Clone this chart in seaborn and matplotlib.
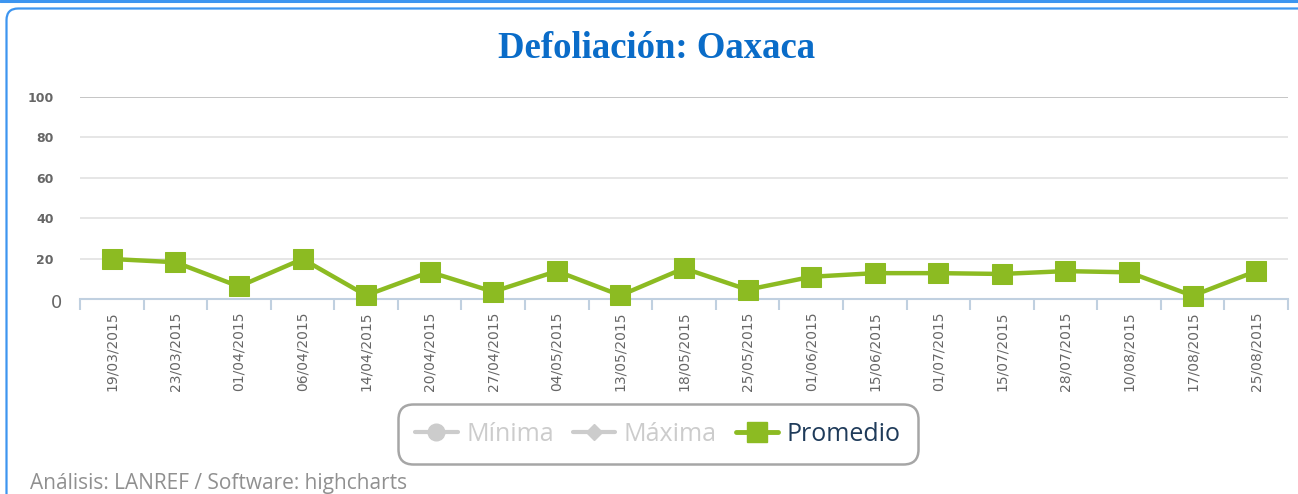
import matplotlib
matplotlib.use("Agg")
import matplotlib.pyplot as plt
import matplotlib.transforms as mtransforms
from matplotlib.lines import Line2D
from matplotlib.patches import FancyBboxPatch
import seaborn as sns
import pandas as pd

fechas = ["19/03/2015", "23/03/2015", "01/04/2015", "06/04/2015", "14/04/2015",
          "20/04/2015", "27/04/2015", "04/05/2015", "13/05/2015", "18/05/2015",
          "25/05/2015", "01/06/2015", "15/06/2015", "01/07/2015", "15/07/2015",
          "28/07/2015", "10/08/2015", "17/08/2015", "25/08/2015"]
promedio = [19.8, 18.2, 6.2, 19.8, 1.8, 13.4, 3.6, 13.8, 1.8, 15.2,
            4.6, 11.0, 12.8, 12.8, 12.4, 13.8, 13.2, 1.6, 13.8]
y_ticks = [0, 20, 40, 60, 80, 100]
series_names = ["Mínima", "Máxima", "Promedio"]

verde = "#8cbb22"
gris = "#666666"

df = pd.DataFrame({"fecha": fechas, "promedio": promedio})
df["pos"] = range(len(df))

sns.set_style("white")
plt.rcParams["font.family"] = ["DejaVu Sans"]

fig = plt.figure(figsize=(12.98, 4.94), dpi=100)
W, H = 1298, 494

# container frame
fig.add_artist(Line2D([0, 1], [1 - 1 / H, 1 - 1 / H], color="#3d95f0", lw=2.2))
frame = FancyBboxPatch((6.5 / W, -0.2), 1.2, 1.2 - 8.5 / H,
                       boxstyle="round,pad=0,rounding_size=0.009",
                       transform=fig.transFigure, fill=False,
                       edgecolor="#3d95f0", lw=1.6, mutation_aspect=W / H)
fig.add_artist(frame)

ax = fig.add_axes([80 / W, (H - 299) / H, (1288 - 80) / W, 202 / H])

for t in y_ticks[1:]:
    ax.axhline(t, color="#c0c0c0" if t == 100 else "#e4e4e4", lw=1.3, zorder=0)

sns.lineplot(data=df, x="pos", y="promedio", ax=ax, color=verde, lw=3.2,
             marker="s", markersize=14, markeredgecolor=verde, zorder=3,
             clip_on=False)

ax.set_xlim(-0.5, len(fechas) - 0.5)
ax.set_ylim(0, 100)
for s in ["left", "right", "top"]:
    ax.spines[s].set_visible(False)
ax.spines["bottom"].set_color("#c0d0e0")
ax.spines["bottom"].set_linewidth(1.5)

ax.set_xticks(range(len(fechas)))
ax.set_xticklabels(fechas, rotation=90, fontsize=10, color=gris, va="top")
ax.set_xticks([i - 0.5 for i in range(len(fechas) + 1)], minor=True)
ax.tick_params(axis="x", which="major", length=0, pad=9)
ax.tick_params(axis="x", which="minor", bottom=True, length=8, width=1.5,
               color="#c0d0e0")

ax.set_yticks(y_ticks)
ax.set_yticklabels([str(t) for t in y_ticks])
ax.tick_params(axis="y", length=0, pad=19)
for lab, t in zip(ax.get_yticklabels(), y_ticks):
    if t == 0:
        lab.set_fontsize(13)
        lab.set_color(gris)
        # the zero label sits closer to the axis in the original
        lab.set_transform(lab.get_transform() + mtransforms.ScaledTranslation(
            9 / 100, -2 / 100, fig.dpi_scale_trans))
    else:
        lab.set_fontsize(9)
        lab.set_fontweight("bold")
        lab.set_color(gris)
ax.set_xlabel("")
ax.set_ylabel("")

fig.text(657 / W, 1 - 48 / H, "Defoliación: Oaxaca", ha="center", va="center",
         fontsize=26.5, fontweight="bold", color="#0a6cc8",
         family=["Liberation Serif", "DejaVu Serif"])

handles = [
    Line2D([], [], color="#cccccc", lw=3, marker="o", markersize=12),
    Line2D([], [], color="#cccccc", lw=3, marker="D", markersize=8),
    Line2D([], [], color=verde, lw=3.5, marker="s", markersize=14),
]
leg = fig.legend(handles, series_names, loc="center", ncol=3,
                 bbox_to_anchor=(658 / W, 1 - 434 / H), frameon=True,
                 handlelength=1.7, handletextpad=0.35,
                 columnspacing=0.75, borderpad=0.7, borderaxespad=0,
                 fancybox=True, prop={"family": "Open Sans", "size": 18})
leg.get_frame().set_edgecolor("#909090")
leg.get_frame().set_linewidth(1.8)
leg.get_frame().set_boxstyle("round", pad=0, rounding_size=0.6)
for txt, c in zip(leg.get_texts(), ["#cccccc", "#cccccc", "#1f3b5a"]):
    txt.set_color(c)

fig.text(30 / W, 1 - 483 / H, "Análisis: LANREF / Software: highcharts",
         ha="left", va="center", fontsize=15, color="#909090",
         family=["Open Sans", "DejaVu Sans"])

fig.savefig("out.png", dpi=100)
